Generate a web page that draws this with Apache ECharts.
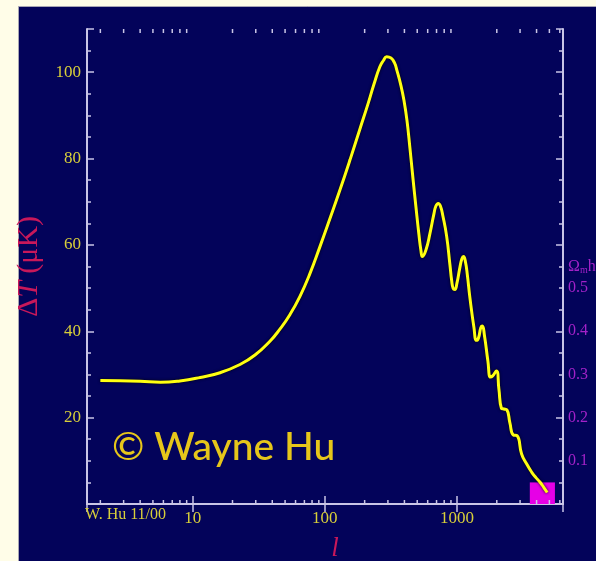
<!DOCTYPE html>
<html>
<head>
<meta charset="utf-8">
<script src="https://cdn.jsdelivr.net/npm/echarts@6/dist/echarts.min.js"></script>
<style>
html,body{margin:0;padding:0;background:#fffde8;}
#c{width:596px;height:561px;}
</style>
</head>
<body>
<div id="c"></div>
<script>
// multipole l and temperature anisotropy ΔT (μK)
const ell = [2, 4, 5.7, 8, 11.4, 16.1, 22.8, 29.6, 38.4, 45.7, 54.5, 64.8, 77.2, 91.8, 109.3, 130, 155, 184, 211.8, 235.2, 261.1, 277.5, 293.5, 316, 336, 351, 376.4, 396.7, 417.9, 440.4, 463.9, 488.8, 515, 533.4, 547.3, 581.8, 623.7, 668.8, 692.3, 720.9, 748.9, 782, 834, 884, 910.6, 936, 963.9, 998, 1052, 1089, 1120, 1158, 1199, 1252, 1343, 1402, 1452, 1516, 1556, 1612, 1713, 1789, 1853, 1987, 2075, 2167, 2263, 2385, 2513, 2662, 2854, 3082, 3361, 3668, 3954, 4238, 4544, 4814];
const dT  = [28.6, 28.4, 28.2, 28.5, 29.3, 30.4, 32.3, 34.5, 37.7, 40.5, 43.9, 48.1, 53.4, 59.6, 66.1, 72.7, 79.7, 86.8, 92.6, 97.2, 101.3, 102.7, 103.6, 103.3, 102.2, 100.4, 96.9, 93.5, 88.9, 82.4, 75.5, 68.8, 62.4, 58.7, 57.3, 58.8, 62.6, 67.2, 69.0, 69.6, 69.0, 66.7, 62.1, 55.4, 51.8, 49.9, 49.7, 51.1, 54.8, 56.8, 57.3, 56.1, 52.9, 47.8, 40.9, 37.9, 38.4, 40.9, 41.2, 39.1, 33.1, 29.4, 29.6, 30.8, 26.6, 22.2, 22.0, 21.8, 18.8, 16.0, 15.8, 11.6, 9.3, 7.4, 6.1, 5.1, 3.8, 2.65];

// axis ticks / labels
const xLabelTicks = [10, 100, 1000];
const xMinorTicks = [2,3,4,5,6,7,8,9, 20,30,40,50,60,70,80,90, 200,300,400,500,600,700,800,900, 2000,3000,4000,5000,6000];
const yLabelTicks = [20, 40, 60, 80, 100];
const rightLabelTicks = [0.1, 0.2, 0.3, 0.4, 0.5];
const rightTitleAt = 0.55;

// highlighted box (l range, ΔT range)
const boxL = [3556, 5508];
const boxT = [0, 5];

const xMin = 1.585, xMax = 6340, yMin = 0, yMax = 110;

const axisCol = '#c9c5e6';
const yellowTxt = '#d8cf3a';
const magentaTxt = '#a322c8';
const redTxt = '#c8185a';

const chart = echarts.init(document.getElementById('c'), null, {renderer: 'canvas'});

function isPow10(v) {
  const r = Math.round(Math.log10(v));
  return Math.abs(Math.log10(v) - r) < 1e-6;
}

const option = {
  backgroundColor: '#fffde8',
  animation: false,
  graphic: [
    {type: 'rect', left: 18, top: 6, z: -10,
     shape: {width: 600, height: 600},
     style: {fill: '#03035a', stroke: '#a8a6b4', lineWidth: 1}},
    {type: 'text', left: 85, top: 507, z: 10,
     style: {text: 'W. Hu 11/00', font: '16px "Liberation Serif", serif', fill: yellowTxt}},
    {type: 'text', left: 112, top: 428, z: 10,
     style: {text: '\u00A9 Wayne Hu', font: '500 39px Lato, sans-serif', fill: '#e6c61a'}}
  ],
  grid: {left: 87, right: 33, top: 29, bottom: 57, containLabel: false, outerBoundsMode: 'none'},
  xAxis: [
    {type: 'log', logBase: 10, min: xMin, max: xMax, position: 'bottom', gridIndex: 0,
     name: 'l', nameLocation: 'middle', nameGap: 31,
     nameTextStyle: {color: redTxt, fontFamily: '"Liberation Serif", serif', fontStyle: 'italic', fontSize: 27, padding: [0, 0, 0, 20]},
     axisLine: {show: true, lineStyle: {color: axisCol, width: 2}},
     axisTick: {show: true, inside: true, length: 8, lineStyle: {color: axisCol, width: 1.5}},
     axisLabel: {show: true, margin: 6, color: yellowTxt, fontFamily: '"Liberation Serif", serif', fontSize: 17,
       formatter: v => (isPow10(v) && xLabelTicks.includes(Math.round(v))) ? String(Math.round(v)) : ''},
     splitLine: {show: false}, minorTick: {show: false}},
    {type: 'log', logBase: 10, min: xMin, max: xMax, position: 'top', gridIndex: 0,
     axisLine: {show: true, lineStyle: {color: axisCol, width: 2}},
     axisTick: {show: true, inside: true, length: 8, lineStyle: {color: axisCol, width: 1.5}},
     axisLabel: {show: false}, splitLine: {show: false}}
  ],
  yAxis: [
    {type: 'value', min: yMin, max: yMax, interval: 20, position: 'left',
     name: '{a|\u0394}{b|T}{a| (\u03bcK)}', nameLocation: 'middle', nameGap: 35, nameRotate: 90,
     nameTextStyle: {color: redTxt, rich: {
       a: {color: redTxt, fontFamily: '"Liberation Serif", serif', fontSize: 30},
       b: {color: redTxt, fontFamily: '"Liberation Serif", serif', fontStyle: 'italic', fontSize: 30}}},
     axisLine: {show: true, lineStyle: {color: axisCol, width: 2}},
     axisTick: {show: true, inside: true, length: 7, lineStyle: {color: axisCol, width: 1.5}},
     axisLabel: {show: true, margin: 6, color: yellowTxt, fontFamily: '"Liberation Serif", serif', fontSize: 17,
       formatter: v => yLabelTicks.includes(Math.round(v)) && Math.abs(v - Math.round(v)) < 1e-6 ? String(Math.round(v)) : ''},
     splitLine: {show: false}},
    {type: 'value', min: yMin, max: yMax, interval: 5, position: 'left',
     axisLine: {show: false}, axisLabel: {show: false}, splitLine: {show: false},
     axisTick: {show: true, inside: true, length: 4, lineStyle: {color: axisCol, width: 1.5}}},
    {type: 'value', min: yMin / 100, max: yMax / 100, interval: 0.05, position: 'right',
     axisLine: {show: true, lineStyle: {color: axisCol, width: 2}},
     axisTick: {show: true, inside: true, length: 4, lineStyle: {color: axisCol, width: 1.5}},
     axisLabel: {show: true, margin: 5, color: magentaTxt, fontFamily: '"Liberation Serif", serif', fontSize: 16,
       formatter: v => {
         const k = Math.round(v * 100);
         if (Math.abs(v * 100 - k) > 1e-4) return '';
         if (k === Math.round(rightTitleAt * 100)) return '{o|\u03a9}{s|m}{o|h}{p|2}';
         if (rightLabelTicks.some(t => Math.round(t * 100) === k)) return (k / 100).toFixed(1);
         return '';
       },
       rich: {
         o: {color: magentaTxt, fontFamily: '"Liberation Serif", serif', fontSize: 16},
         s: {color: magentaTxt, fontFamily: '"Liberation Serif", serif', fontSize: 10, verticalAlign: 'bottom', padding: [8, 0, 0, 0]},
         p: {color: magentaTxt, fontFamily: '"Liberation Serif", serif', fontSize: 10, padding: [0, 0, 8, 0]}
       }},
     splitLine: {show: false}},
    {type: 'value', min: yMin / 100, max: yMax / 100, interval: 0.2, position: 'right',
     axisLine: {show: false}, axisLabel: {show: false}, splitLine: {show: false},
     axisTick: {show: true, inside: true, length: 7, lineStyle: {color: axisCol, width: 1.5}}}
  ],
  series: [
    {
      name: 'box', type: 'line', data: [], xAxisIndex: 0, yAxisIndex: 0, z: 1, silent: true,
      markArea: {silent: true, itemStyle: {color: '#e600e6', opacity: 1},
        data: [[{coord: [boxL[0], boxT[0]]}, {coord: [boxL[1], boxT[1]]}]]}
    },
    {
      name: 'minorTicks', type: 'custom', xAxisIndex: 0, yAxisIndex: 0, z: 2, silent: true,
      data: xMinorTicks.map(v => [v, yMin]),
      encode: {x: 0, y: 1},
      clip: false,
      renderItem: function (params, api) {
        const v = api.value(0);
        const b = api.coord([v, yMin]);
        const t = api.coord([v, yMax]);
        const st = {stroke: axisCol, lineWidth: 1.5};
        return {type: 'group', children: [
          {type: 'line', shape: {x1: b[0], y1: b[1], x2: b[0], y2: b[1] - 4}, style: st},
          {type: 'line', shape: {x1: t[0], y1: t[1], x2: t[0], y2: t[1] + 4}, style: st}
        ]};
      }
    },
    {
      name: 'ΔT', type: 'line', xAxisIndex: 0, yAxisIndex: 0, z: 5,
      data: ell.map((l, i) => [l, dT[i]]),
      showSymbol: false, smooth: 0.5,
      lineStyle: {color: '#ffff10', width: 3, shadowColor: 'rgba(0,0,0,0.9)', shadowBlur: 3}
    }
  ]
};
chart.setOption(option);
</script>
</body>
</html>
